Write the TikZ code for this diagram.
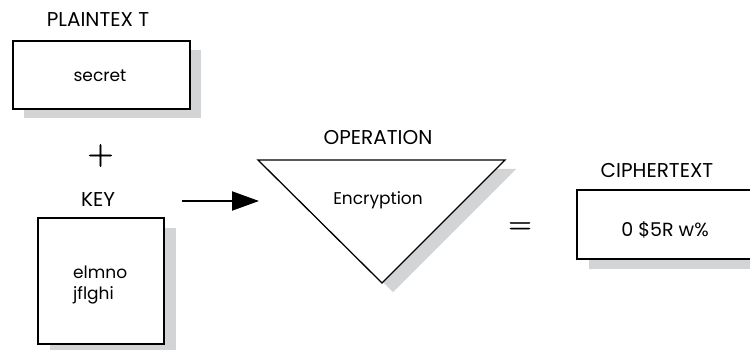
\documentclass[tikz,border=0pt]{standalone}
\usepackage{fontspec}
\setmainfont{Poppins}
\newfontfamily\opfont[FakeBold=1.2]{Latin Modern Roman}
\usetikzlibrary{arrows.meta}
\definecolor{shade}{RGB}{211,212,214}
\tikzset{
  shadowfill/.style={fill=shade, draw=none},
  boxdraw/.style={draw=black, line width=1.3pt, fill=white},
  lbl/.style={font=\fontsize{20}{20}\selectfont, inner sep=0pt},
  txt/.style={font=\fontsize{17}{21}\selectfont, inner sep=0pt},
  op/.style={inner sep=0pt},
}
\begin{document}
\begin{tikzpicture}[x=1pt,y=-1pt]
\clip (0,0) rectangle (750,350);
\fill[white] (0,0) rectangle (750,350);
% plaintext
\fill[shadowfill] (24,50) rectangle (201,118);
\draw[boxdraw] (13,41) rectangle (190,109);
\node[lbl] (plainlbl) at (98,20) {PLAINTEX T};
\node[txt] (plain) at (100,76) {secret};
% plus
\node[op, font=\opfont\fontsize{36}{36}\selectfont] (plus) at (100.5,155.5) {+};
% key
\node[lbl] (keylbl) at (98,200) {KEY};
\fill[shadowfill] (50,228) rectangle (176,354);
\draw[boxdraw] (38,218) rectangle (164,344);
\node[txt, align=left, anchor=west] (key) at (73,285) {elmno\\jflghi};
% arrow
\coordinate (arrS) at (182,201);
\coordinate (arrE) at (259,201);
\draw[line width=2pt, -{Triangle[length=27pt,width=19pt]}] (arrS) -- (arrE);
% operation
\fill[shadowfill] (269,169) -- (516,169) -- (393,292) -- cycle;
\draw[boxdraw, line join=miter] (258,160) -- (505,160) -- (382,283) -- cycle;
\node[lbl] (oplbl) at (378,138) {OPERATION};
\node[txt] (op) at (378,200) {Encryption};
% equals
\node[op, font=\opfont\fontsize{32}{32}\selectfont] (eq) at (520,228) {=};
% ciphertext
\node[lbl] (ciphlbl) at (657,171) {CIPHERTEXT};
\fill[shadowfill] (589,200) rectangle (772,269);
\draw[boxdraw] (577,190) rectangle (760,259);
\node[txt, font=\fontsize{19}{19}\selectfont] (ciph) at (665,230) {0 \$5R w\%};
\end{tikzpicture}
\end{document}
